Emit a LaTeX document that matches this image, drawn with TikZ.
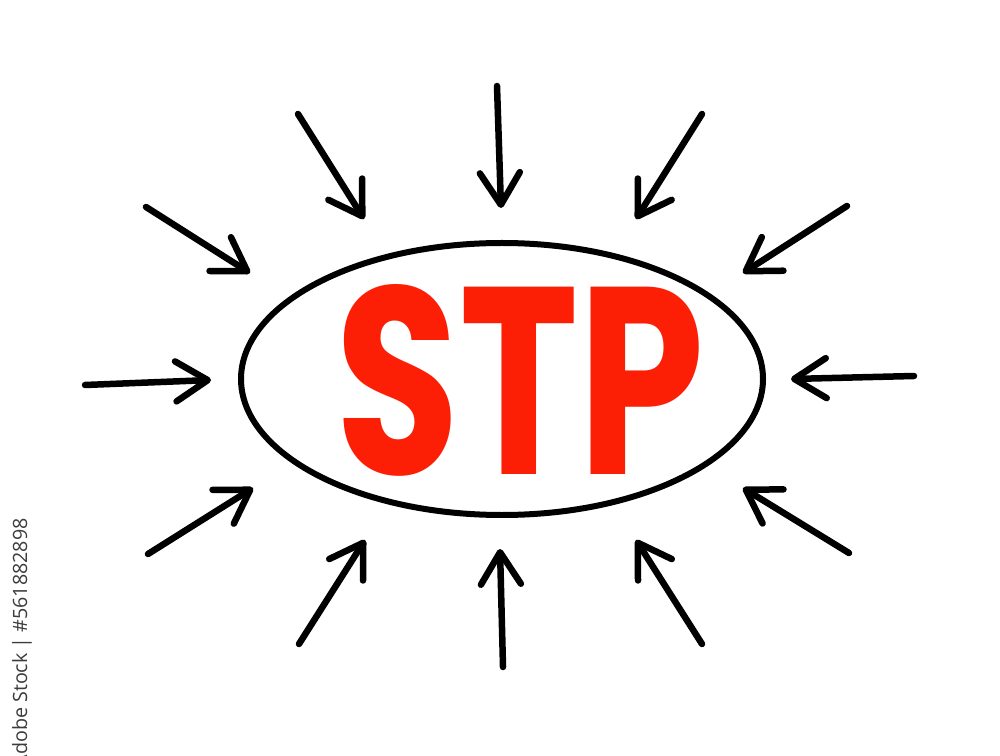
\documentclass[tikz,border=0pt]{standalone}
\usepackage{fontspec}
\setmainfont{Poppins}
\newfontfamily\wmfont{Open Sans}
\usetikzlibrary{arrows.meta}
\definecolor{stpred}{RGB}{252,30,5}
\definecolor{wmgray}{RGB}{60,60,60}
\tikzset{
  inarrow/.style={line width=0.13cm, line cap=round, line join=round,
    -{Straight Barb[length=0.64cm,width=0.8cm,line cap=round,line join=round]}},
}
\begin{document}
\begin{tikzpicture}[x=0.02cm,y=-0.02cm]
\useasboundingbox (0,0) rectangle (1000,756);
\fill[white] (0,0) rectangle (1000,756);
% ellipse
\draw[line width=0.12cm] (502,379) ellipse [x radius=261, y radius=136];
% text
\node[text=stpred, inner sep=0] (stp) at (520,380) {\resizebox{7.4cm}{3.8cm}{\bfseries STP}};
% arrow coordinates
\coordinate (t1) at (497,86);  \coordinate (h1) at (501,208);
\coordinate (t2) at (298,114); \coordinate (h2) at (364,219);
\coordinate (t3) at (702,114); \coordinate (h3) at (636,219);
\coordinate (t4) at (146,207); \coordinate (h4) at (250,273);
\coordinate (t5) at (847,206); \coordinate (h5) at (743,273);
\coordinate (t6) at (85,385);  \coordinate (h6) at (211,380);
\coordinate (t7) at (914,376); \coordinate (h7) at (791,379);
\coordinate (t8) at (148,554); \coordinate (h8) at (253,488);
\coordinate (t9) at (849,553); \coordinate (h9) at (743,488);
\coordinate (t10) at (299,644); \coordinate (h10) at (365,540);
\coordinate (t11) at (503,667); \coordinate (h11) at (500,549);
\coordinate (t12) at (702,644); \coordinate (h12) at (636,540);
\foreach \i in {1,...,12} {\draw[inarrow] (t\i) -- (h\i);}
% watermark id
\node[rotate=90, anchor=east, inner sep=0, text=wmgray, font=\wmfont\fontsize{11.2}{13}\selectfont] (wm) at (22,518) {Adobe Stock | \#561882898};
\end{tikzpicture}
\end{document}
